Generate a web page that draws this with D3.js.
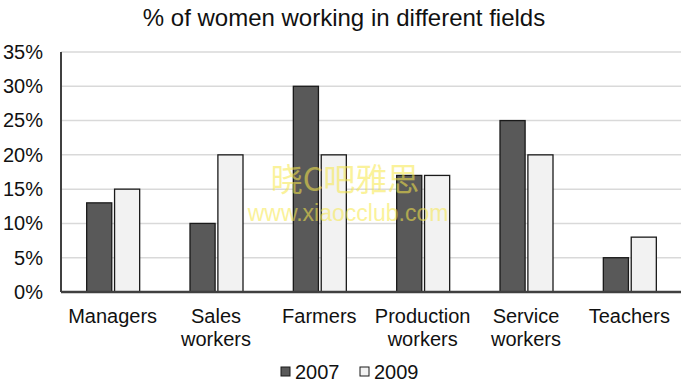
<!DOCTYPE html>
<html>
<head>
<meta charset="utf-8">
<script src="https://cdn.jsdelivr.net/npm/d3@7"></script>
<style>
  body { margin: 0; background: #fff; }
  svg { display: block; font-family: "Liberation Sans", Arial, sans-serif; }
</style>
</head>
<body>
<div id="chart"></div>
<script>
// data
const categories = [["Managers"], ["Sales", "workers"], ["Farmers"], ["Production", "workers"], ["Service", "workers"], ["Teachers"]];
const years = ["2007", "2009"];
const values2007 = [13, 10, 30, 17, 25, 5];
const values2009 = [15, 20, 20, 17, 20, 8];
const yTicks = [0, 5, 10, 15, 20, 25, 30, 35];

const W = 690, H = 386;
const margin = {top: 52, right: 9, bottom: 94, left: 61};
const width = W - margin.left - margin.right,
      height = H - margin.top - margin.bottom;

const svg = d3.select("#chart").append("svg")
    .attr("width", W).attr("height", H);

svg.append("text")
    .attr("x", 344).attr("y", 26)
    .attr("text-anchor", "middle")
    .attr("font-size", "24px").attr("fill", "#111")
    .text("% of women working in different fields");

const g = svg.append("g").attr("transform", `translate(${margin.left},${margin.top})`);

const names = categories.map(c => c.join(" "));
const x = d3.scaleBand().domain(names).range([0, width]);
const xSub = d3.scaleBand().domain(years).range([x.bandwidth() / 2 - 26, x.bandwidth() / 2 + 27]).paddingInner(0.1);
const y = d3.scaleLinear().domain([0, 35]).range([height, 0]);
const color = d3.scaleOrdinal().domain(years).range(["#595959", "#f2f2f2"]);

// gridlines
g.append("g")
  .selectAll("line")
  .data(yTicks.slice(1))
  .join("line")
    .attr("x1", 0).attr("x2", width)
    .attr("y1", d => y(d)).attr("y2", d => y(d))
    .attr("stroke", "#d9d9d9").attr("stroke-width", 1.5);

// y axis labels
const yAxis = g.append("g")
  .call(d3.axisLeft(y).tickValues(yTicks).tickFormat(d => d + "%").tickSize(0).tickPadding(18));
yAxis.select(".domain").remove();
yAxis.selectAll("text").attr("font-size", "20px").attr("fill", "#111")
  .attr("font-family", "'Liberation Sans', Arial, sans-serif");

// bars
const rows = names.map((n, i) => ({name: n, vals: [{key: "2007", value: values2007[i]}, {key: "2009", value: values2009[i]}]}));
g.append("g")
  .selectAll("g")
  .data(rows)
  .join("g")
    .attr("transform", d => `translate(${x(d.name)},0)`)
  .selectAll("rect")
  .data(d => d.vals)
  .join("rect")
    .attr("x", d => xSub(d.key))
    .attr("y", d => y(d.value))
    .attr("width", xSub.bandwidth())
    .attr("height", d => height - y(d.value))
    .attr("fill", d => color(d.key))
    .attr("stroke", "#1a1a1a").attr("stroke-width", 1.3);

// axis lines
g.append("line").attr("x1", 0).attr("x2", 0).attr("y1", y(35)).attr("y2", height)
  .attr("stroke", "#404040").attr("stroke-width", 2);
g.append("line").attr("x1", 0).attr("x2", width).attr("y1", height).attr("y2", height)
  .attr("stroke", "#404040").attr("stroke-width", 2.5);

// category labels
const xl = g.append("g").selectAll("text")
  .data(categories)
  .join("text")
    .attr("x", (d, i) => x(names[i]) + x.bandwidth() / 2)
    .attr("y", height + 31)
    .attr("text-anchor", "middle")
    .attr("font-size", "20px").attr("fill", "#111");
xl.selectAll("tspan")
  .data(d => d)
  .join("tspan")
    .attr("x", function() { return this.parentNode.getAttribute("x"); })
    .attr("dy", (d, i) => i === 0 ? 0 : 23)
    .text(d => d);

// legend
const legend = svg.append("g").attr("transform", "translate(281,372)");
const lx = [0, 79];
years.forEach((yr, i) => {
  legend.append("rect").attr("x", lx[i]).attr("y", -5).attr("width", 9).attr("height", 9)
    .attr("fill", color(yr)).attr("stroke", "#1a1a1a").attr("stroke-width", 1);
  legend.append("text").attr("x", lx[i] + 14).attr("y", 7)
    .attr("font-size", "20px").attr("fill", "#111").text(yr);
});

// watermark
svg.append("text").attr("x", 345).attr("y", 191).attr("text-anchor", "middle")
  .attr("font-family", "'Noto Sans CJK SC', sans-serif").attr("font-size", "32px")
  .attr("fill", "#f7e84a").attr("opacity", 0.55).text("晓C吧雅思");
svg.append("text").attr("x", 348).attr("y", 221).attr("text-anchor", "middle")
  .attr("font-size", "23px")
  .attr("fill", "#f7e84a").attr("opacity", 0.55).text("www.xiaocclub.com");
</script>
</body>
</html>
